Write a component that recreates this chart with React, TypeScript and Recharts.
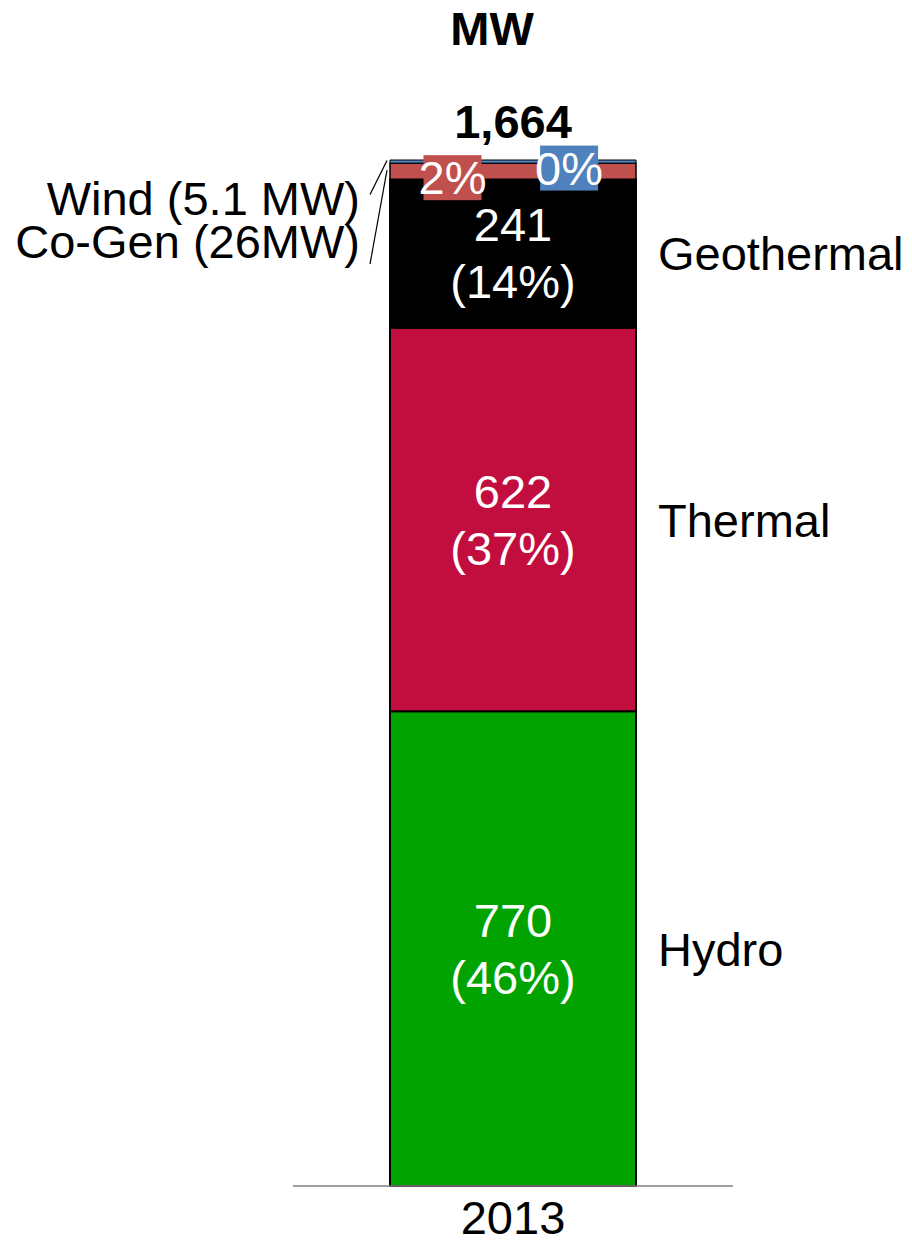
import type { ReactElement } from 'react';
import { BarChart, Bar, XAxis, YAxis, LabelList } from 'recharts';

/* ------------------------------------------------------------------ */
/*  Data                                                               */
/* ------------------------------------------------------------------ */

const years = ['2013'];
const hydro = [770];
const thermal = [622];
const geothermal = [241];
const coGen = [26];
const wind = [5.1];

const unitTitle = 'MW';

const data = years.map((year, i) => ({
  year,
  hydro: hydro[i],
  thermal: thermal[i],
  geothermal: geothermal[i],
  coGen: coGen[i],
  wind: wind[i],
}));

const totals = data.map((d) => d.hydro + d.thermal + d.geothermal + d.coGen + d.wind);
const total = totals[0];

const FONT = '"Liberation Sans", Arial, Helvetica, sans-serif';
const FS = 47;

const pct = (v: number) => `${Math.round((v / total) * 100)}%`;
const fmt = (v: number) => v.toLocaleString('en-US', { maximumFractionDigits: 0 });

/* ------------------------------------------------------------------ */
/*  Label helpers                                                      */
/* ------------------------------------------------------------------ */

function box(props: any) {
  const vb = props.viewBox ?? {};
  const x = Number(props.x ?? vb.x);
  const y = Number(props.y ?? vb.y);
  const width = Number(props.width ?? vb.width);
  const height = Number(props.height ?? vb.height);
  return { x, y, width, height, value: Number(props.value) };
}

// value + share inside the segment, category name to the right
function makeSegmentLabel(name: string) {
  return (props: any): ReactElement => {
    const { x, y, width, height, value } = box(props);
    const cx = x + width / 2;
    const cy = y + height / 2;
    return (
      <g fontFamily={FONT} fontSize={FS}>
        <text x={cx} y={cy - 12} textAnchor="middle" fill="#fff">
          {fmt(value)}
        </text>
        <text x={cx} y={cy + 45} textAnchor="middle" fill="#fff">
          ({pct(value)})
        </text>
        <text x={x + width + 22} y={cy + 17} fill="#000">
          {name}
        </text>
      </g>
    );
  };
}

// small segments: coloured percent tag + left callout with leader line
function makeSmallLabel(name: string, color: string, tagOffset: number, tagY: number, textY: number, lineY: number) {
  return (props: any): ReactElement => {
    const { x, y, width, height, value } = box(props);
    const tx = x + width * tagOffset;
    const ty = y + height / 2 + tagY;
    const unit = name === 'Wind' ? ' MW' : 'MW';
    return (
      <g fontFamily={FONT} fontSize={FS}>
        <rect x={tx - 29} y={ty - 22} width={58} height={45} fill={color} />
        <text x={tx} y={ty + 17} textAnchor="middle" fill="#fff">
          {pct(value)}
        </text>
        <line x1={x - 20} y1={y + height / 2 + lineY} x2={x - 3} y2={y + height / 2 - 1} stroke="#000" strokeWidth={1.2} />
        <text x={x - 30} y={y + height / 2 + textY} textAnchor="end" fill="#000">
          {`${name} (${value}${unit})`}
        </text>
      </g>
    );
  };
}

function WindLabel(props: any): ReactElement {
  const { x, y, width } = box(props);
  const small = makeSmallLabel('Wind', '#4F81BD', 0.728, 6, 53, 33)(props);
  const cx = x + width / 2;
  return (
    <g>
      {small}
      <text x={cx - 21} y={y - 115} textAnchor="middle" fontFamily={FONT} fontSize={FS} fontWeight="bold" fill="#000">
        {unitTitle}
      </text>
      <text x={cx} y={y - 22} textAnchor="middle" fontFamily={FONT} fontSize={FS} fontWeight="bold" fill="#000">
        {fmt(total)}
      </text>
    </g>
  );
}

/* ------------------------------------------------------------------ */
/*  Component                                                          */
/* ------------------------------------------------------------------ */

export default function App(): ReactElement {
  return (
    <div style={{ position: 'absolute', left: 0, top: 0, background: '#fff' }}>
      <BarChart
        width={912}
        height={1240}
        data={data}
        margin={{ top: 160, right: 179, bottom: 4, left: 293 }}
      >
        <XAxis
          dataKey="year"
          height={50}
          tickLine={false}
          axisLine={{ stroke: '#808080', strokeWidth: 1.5 }}
          tickMargin={9}
          tick={{ fill: '#000', fontSize: FS, fontFamily: FONT }}
        />
        <YAxis hide domain={[0, total]} />

        <Bar dataKey="hydro" stackId="a" fill="#00A300" stroke="#000" strokeWidth={2} barSize={246} isAnimationActive={false}>
          <LabelList dataKey="hydro" content={makeSegmentLabel('Hydro')} />
        </Bar>
        <Bar dataKey="thermal" stackId="a" fill="#C20E3E" stroke="#000" strokeWidth={2} barSize={246} isAnimationActive={false}>
          <LabelList dataKey="thermal" content={makeSegmentLabel('Thermal')} />
        </Bar>
        <Bar dataKey="geothermal" stackId="a" fill="#000000" stroke="#000" strokeWidth={2} barSize={246} isAnimationActive={false}>
          <LabelList dataKey="geothermal" content={makeSegmentLabel('Geothermal')} />
        </Bar>
        <Bar dataKey="coGen" stackId="a" fill="#C0504D" stroke="#000" strokeWidth={1.5} barSize={246} isAnimationActive={false}>
          <LabelList dataKey="coGen" content={makeSmallLabel('Co-Gen', '#C0504D', 0.254, 6, 87, 93)} />
        </Bar>
        <Bar dataKey="wind" stackId="a" fill="#4F81BD" stroke="#000" strokeWidth={1} barSize={246} isAnimationActive={false}>
          <LabelList dataKey="wind" content={WindLabel} />
        </Bar>
      </BarChart>
    </div>
  );
}
